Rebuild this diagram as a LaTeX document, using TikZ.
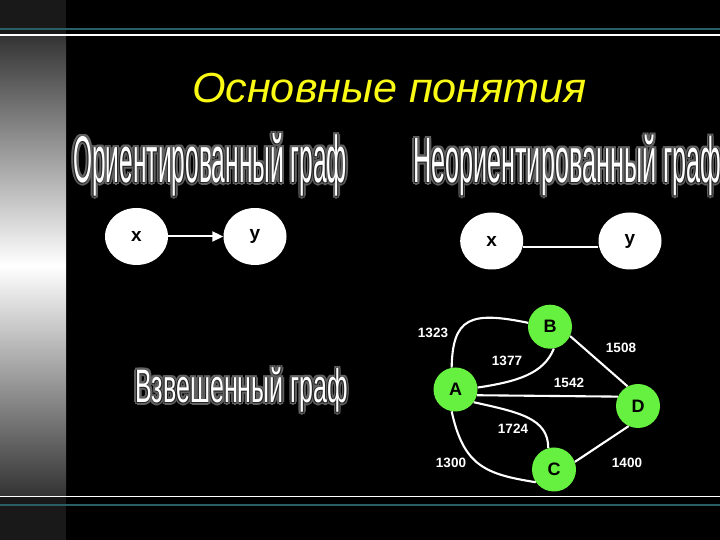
\documentclass[tikz,border=0pt]{standalone}
\usepackage{fontspec}
\setmainfont{Liberation Sans}
\usetikzlibrary{shapes.geometric,arrows.meta}
\definecolor{tealline}{RGB}{40,95,100}
\definecolor{nodegreen}{RGB}{102,240,64}
\definecolor{titleyellow}{RGB}{250,250,20}
\newcommand\mywa[6]{%
  \foreach \dx/\dy [count=\k] in {2/2,2/-2,-2/2,-2/-2,2.4/0,-2.4/0,0/2.4,0/-2.4}{%
    \node[wshadow] (#1s\k) at (#2+\dx,#3+\dy) {\fontsize{#5}{#5}\selectfont\resizebox{#4pt}{\height}{#6}};}
  \foreach \dx/\dy [count=\k] in {0.7/0.7,0.7/-0.7,-0.7/0.7,-0.7/-0.7}{%
    \node[wedge] (#1e\k) at (#2+\dx,#3+\dy) {\fontsize{#5}{#5}\selectfont\resizebox{#4pt}{\height}{#6}};}
  \node[wart] (#1) at (#2,#3) {\fontsize{#5}{#5}\selectfont\resizebox{#4pt}{\height}{#6}};}
\begin{document}
\begin{tikzpicture}[x=1pt,y=1pt,
  ell/.style={ellipse,fill=white,minimum width=63pt,minimum height=57pt,inner sep=0pt,
    font=\fontsize{19}{19}\selectfont\bfseries,text=black},
  vert/.style={circle,fill=nodegreen,minimum size=44pt,inner sep=0pt,
    font=\fontsize{18}{18}\selectfont\bfseries,text=black},
  edge/.style={draw=white,line width=2.1pt},
  wlab/.style={text=white,font=\fontsize{13.5}{13.5}\selectfont\bfseries,inner sep=0pt},
  wart/.style={anchor=base west,inner sep=0pt,text=white},
  wedge/.style={anchor=base west,inner sep=0pt,text=black!85},
  wshadow/.style={anchor=base west,inner sep=0pt,text=black!62}
]
\useasboundingbox (0,0) rectangle (720,540);
\fill[black] (0,0) rectangle (720,540);
% left gradient strip
\fill[black!90] (0,0) rectangle (66,540);
\shade[top color=black!80, bottom color=black!80, middle color=white] (0,44) rectangle (66,505);
% horizontal rules
\draw[tealline,line width=2.3pt] (0,510.8) -- (720,510.8);
\draw[white,line width=1.3pt] (0,505) -- (720,505);
\draw[white,line width=1.3pt] (0,43.7) -- (720,43.7);
\draw[tealline,line width=1.6pt] (0,34.8) -- (720,34.8);
% title
\node[anchor=base,inner sep=0pt,text=titleyellow,font=\fontsize{42}{42}\selectfont\itshape]
  (title) at (389.5,437) {\resizebox{395pt}{\height}{Основные понятия}};
% word-art headings
\mywa{hdir}{73}{357}{274}{66}{Ориентированный граф}
\mywa{hund}{413}{357}{308}{64}{Неориентированный граф}
\mywa{hwei}{135}{137}{213}{47}{Взвешенный граф}
% directed graph
\node[ell] (dx) at (136.5,303.5) {x};
\node[ell] (dy) at (255,303.5) {y};
\draw[white,line width=2pt,-{Triangle[length=11pt,width=10pt]}] (dx.east) -- (dy.west);
% undirected graph
\node[ell] (ux) at (491.7,299) {x};
\node[ell] (uy) at (630,299) {y};
\draw[white,line width=2pt] ([yshift=-5.7pt]ux.east) -- ([yshift=-5.7pt]uy.west);
% weighted graph
\node[vert] (A) at (455.5,150.5) {A};
\node[vert] (B) at (550,213.3) {B};
\node[vert] (D) at (638,134) {D};
\node[vert] (C) at (554,70.5) {C};
\draw[edge] (A.100) .. controls +(1,50) and +(-58,12) .. (B.170);
\draw[edge] (A.5) .. controls +(40,6) and +(-10,-25) .. (B.-80);
\draw[edge] (A.-15) -- (D.155);
\draw[edge] (A.-35) .. controls +(45,-10) and +(0,30) .. (C.105);
\draw[edge] (A.-100) .. controls +(12,-55) and +(-50,8) .. (C.215);
\draw[edge] (B.-25) -- (D.118);
\draw[edge] (C.20) -- (D.-115);
\node[wlab] (w1323) at (433,207) {1323};
\node[wlab] (w1377) at (507,179) {1377};
\node[wlab] (w1508) at (621,192) {1508};
\node[wlab] (w1542) at (569,157) {1542};
\node[wlab] (w1724) at (513,111) {1724};
\node[wlab] (w1300) at (451,77) {1300};
\node[wlab] (w1400) at (627,77) {1400};
\end{tikzpicture}
\end{document}
